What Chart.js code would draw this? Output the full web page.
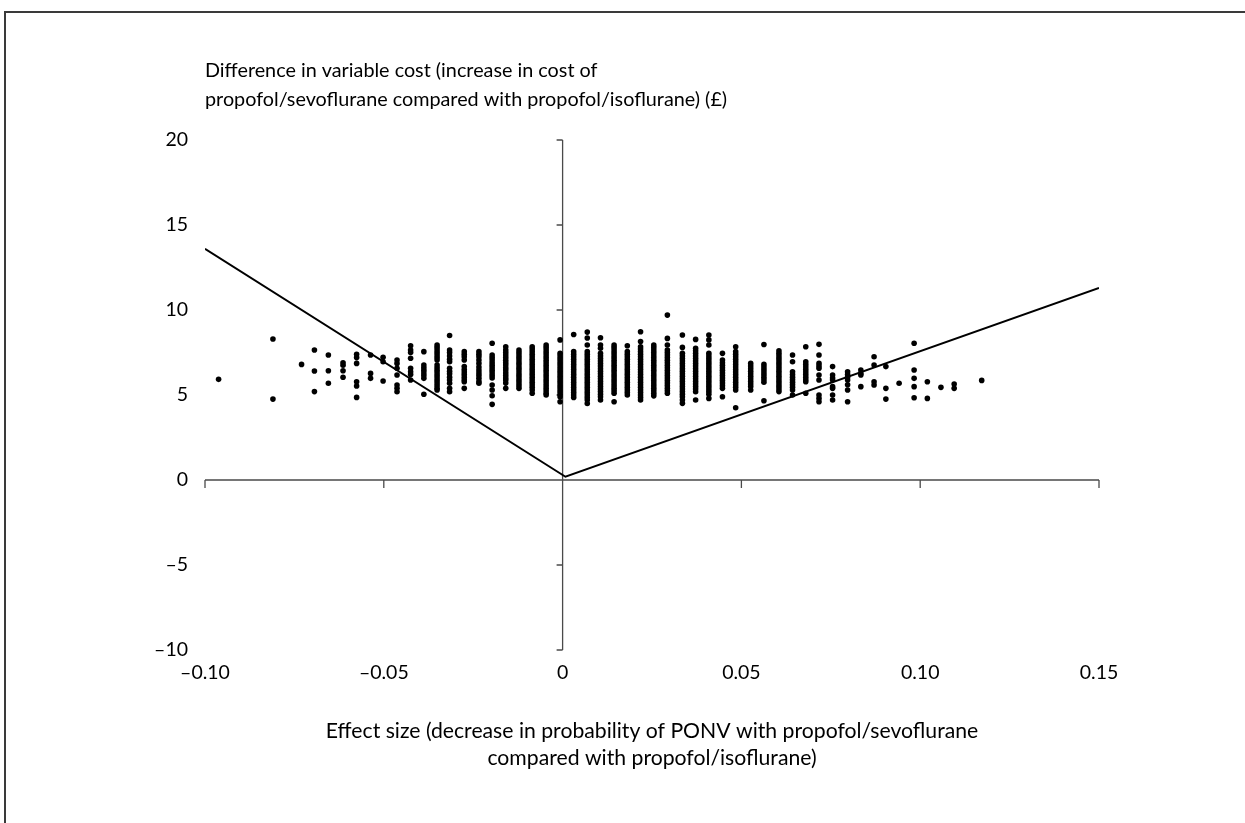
<!DOCTYPE html>
<html>
<head>
<meta charset="utf-8">
<script src="https://cdn.jsdelivr.net/npm/chart.js@4.4.1/dist/chart.umd.min.js"></script>
<style>
html, body { margin: 0; padding: 0; background: #fff; overflow: hidden; }
#wrap { position: relative; width: 1245px; height: 823px; }
#frame { position: absolute; left: 4px; top: 11px; width: 1280px; height: 840px; border-left: 2px solid #3a3a3a; border-top: 2px solid #3a3a3a; }
canvas { position: absolute; left: 0; top: 0; }
</style>
</head>
<body>
<div id="wrap">
    <div id="frame"></div>
    <canvas id="chart" width="1245" height="823"></canvas>
</div>
<script>
// effect size of each column of simulated points
const columnX = [
    -0.0962, -0.081, -0.073, -0.0694, -0.0655, -0.0614, -0.0576, -0.0537, -0.0502, -0.0463,
    -0.0425, -0.0388, -0.0351, -0.0316, -0.0275, -0.0234, -0.0197, -0.0159, -0.0122, -0.0085,
    -0.0046, -0.0007, 0.0031, 0.0069, 0.0106, 0.0144, 0.0181, 0.0218, 0.0255, 0.0293,
    0.0335, 0.0372, 0.0409, 0.0447, 0.0484, 0.0526, 0.0563, 0.0605, 0.0643, 0.068,
    0.0717, 0.0755, 0.0797, 0.0834, 0.0871, 0.0904, 0.0941, 0.0983, 0.102, 0.1058,
    0.1095, 0.1172
];

// cost differences (£) in each column
const columnY = [
    [5.92],
    [8.29, 4.76],
    [6.8],
    [7.65, 6.41, 5.2],
    [7.35, 6.43, 5.69],
    [6.9, 6.75, 6.43, 6.04],
    [7.39, 7.2, 6.86, 5.78, 5.53, 4.86],
    [7.35, 6.27, 5.98],
    [7.22, 6.96, 5.82],
    [7.06, 6.86, 6.57, 6.18, 5.59, 5.39, 5.19],
    [7.9, 7.65, 7.5, 7.16, 6.57, 6.37, 6.2, 5.88],
    [7.55, 6.76, 6.6, 6.45, 6.3, 6.15, 5.98, 5.04],
    [7.94, 7.8, 7.65, 7.5, 7.35, 7.2, 7.06, 6.76, 6.6, 6.45, 6.3, 6.15, 6.0, 5.85, 5.7, 5.55, 5.39, 5.29],
    [8.5, 7.65, 7.5, 7.3, 7.1, 6.96, 6.57, 6.4, 6.25, 6.05, 5.88, 5.69, 5.39, 5.19],
    [7.55, 7.4, 7.25, 7.06, 6.67, 6.5, 6.35, 6.2, 6.05, 5.9, 5.78, 5.39],
    [7.55, 7.4, 7.25, 7.06, 6.86, 6.65, 6.47, 6.3, 6.15, 5.98, 5.8, 5.69],
    [8.04, 7.35, 7.2, 7.06, 6.9, 6.75, 6.6, 6.45, 6.3, 6.15, 6.0, 5.59, 5.29, 4.96, 4.45],
    [7.84, 7.65, 7.5, 7.35, 7.2, 7.05, 6.9, 6.76, 6.6, 6.47, 6.3, 6.15, 6.0, 5.88, 5.7, 5.39],
    [7.65, 7.5, 7.35, 7.2, 7.06, 6.9, 6.76, 6.6, 6.47, 6.3, 6.15, 6.0, 5.85, 5.7, 5.55, 5.39],
    [7.84, 7.7, 7.55, 7.4, 7.25, 7.1, 6.96, 6.8, 6.65, 6.5, 6.35, 6.2, 6.05, 5.9, 5.75, 5.6, 5.45, 5.29, 5.1],
    [7.94, 7.8, 7.65, 7.5, 7.35, 7.2, 7.05, 6.9, 6.75, 6.6, 6.45, 6.3, 6.15, 6.0, 5.85, 5.7, 5.55, 5.4, 5.25, 5.1, 5.0],
    [8.24, 7.45, 7.3, 7.15, 7.0, 6.85, 6.7, 6.55, 6.4, 6.25, 6.1, 5.95, 5.8, 5.65, 5.5, 5.35, 5.2, 5.05, 4.9, 4.6],
    [8.56, 7.55, 7.4, 7.25, 7.1, 6.95, 6.8, 6.65, 6.5, 6.35, 6.2, 6.05, 5.9, 5.75, 5.6, 5.45, 5.3, 5.15, 5.0, 4.85],
    [8.7, 8.35, 7.94, 7.55, 7.4, 7.25, 7.1, 6.95, 6.8, 6.65, 6.5, 6.35, 6.2, 6.05, 5.9, 5.75, 5.6, 5.45, 5.3, 5.15, 5.0, 4.85, 4.7, 4.5],
    [8.37, 7.94, 7.75, 7.45, 7.3, 7.15, 7.0, 6.85, 6.7, 6.55, 6.4, 6.25, 6.1, 5.95, 5.8, 5.65, 5.5, 5.35, 5.2, 5.05, 4.9, 4.71],
    [7.94, 7.8, 7.65, 7.5, 7.35, 7.2, 7.05, 6.9, 6.75, 6.6, 6.45, 6.3, 6.15, 6.0, 5.85, 5.7, 5.55, 5.4, 5.25, 5.1, 4.6],
    [7.9, 7.55, 7.4, 7.25, 7.1, 6.95, 6.8, 6.65, 6.5, 6.35, 6.2, 6.05, 5.9, 5.75, 5.6, 5.45, 5.3, 5.15, 5.0],
    [8.72, 8.14, 7.84, 7.7, 7.55, 7.4, 7.25, 7.1, 6.95, 6.8, 6.65, 6.5, 6.35, 6.2, 6.05, 5.9, 5.75, 5.6, 5.45, 5.3, 5.15, 5.0, 4.85, 4.71],
    [7.94, 7.8, 7.65, 7.5, 7.35, 7.2, 7.05, 6.9, 6.75, 6.6, 6.45, 6.3, 6.15, 6.0, 5.85, 5.7, 5.55, 5.4, 5.25, 5.1, 4.95],
    [9.7, 8.33, 7.94, 7.65, 7.5, 7.35, 7.2, 7.05, 6.9, 6.75, 6.6, 6.45, 6.3, 6.15, 6.0, 5.85, 5.7, 5.55, 5.4, 5.25, 5.1],
    [8.53, 7.8, 7.45, 7.3, 7.15, 7.0, 6.85, 6.7, 6.55, 6.4, 6.25, 6.1, 5.95, 5.8, 5.65, 5.5, 5.35, 5.2, 5.05, 4.9, 4.71, 4.51],
    [8.27, 7.75, 7.6, 7.45, 7.3, 7.15, 7.0, 6.85, 6.7, 6.55, 6.4, 6.25, 6.1, 5.95, 5.8, 5.65, 5.5, 5.35, 5.19, 4.71],
    [8.53, 8.24, 7.94, 7.45, 7.3, 7.15, 7.0, 6.85, 6.7, 6.55, 6.4, 6.25, 6.1, 5.95, 5.8, 5.65, 5.5, 5.35, 5.2, 5.05, 4.8],
    [7.45, 7.06, 6.9, 6.75, 6.6, 6.45, 6.3, 6.15, 6.0, 5.85, 5.7, 5.55, 5.39, 4.9],
    [7.84, 7.55, 7.4, 7.25, 7.1, 6.95, 6.8, 6.65, 6.5, 6.35, 6.2, 6.05, 5.9, 5.75, 5.6, 5.45, 5.29, 4.25],
    [6.86, 6.7, 6.55, 6.4, 6.25, 6.1, 5.95, 5.8, 5.65, 5.5, 5.29],
    [7.97, 6.8, 6.65, 6.5, 6.35, 6.2, 6.05, 5.9, 5.75, 4.66],
    [7.6, 7.45, 7.3, 7.15, 7.0, 6.85, 6.7, 6.55, 6.4, 6.25, 6.1, 5.95, 5.8, 5.65, 5.5, 5.35, 5.2],
    [7.35, 6.96, 6.37, 6.2, 6.05, 5.9, 5.75, 5.6, 5.45, 5.29, 5.0],
    [7.84, 6.96, 6.8, 6.65, 6.5, 6.35, 6.2, 6.05, 5.9, 5.78, 5.1],
    [7.98, 7.35, 6.86, 6.7, 6.57, 6.18, 5.88, 5.0, 4.8, 4.6],
    [6.67, 6.18, 6.0, 5.88, 5.49, 5.39, 5.0, 4.71],
    [6.37, 6.2, 6.05, 5.88, 5.6, 5.29, 4.6],
    [6.47, 6.27, 6.18, 5.49],
    [7.25, 6.76, 5.78, 5.59],
    [6.67, 5.39, 4.76],
    [5.69],
    [8.04, 6.47, 5.98, 5.49, 4.84],
    [5.78, 4.8],
    [5.45],
    [5.39, 5.65],
    [5.86]
];

// threshold lines through the origin
const lineX = [-0.10, 0.0008, 0.15];
const lineY = [13.6, 0.19, 11.3];

const xTicks = [-0.10, -0.05, 0, 0.05, 0.10, 0.15];
const yTicks = [-10, -5, 0, 5, 10, 15, 20];

const yTitle = [
    'Difference in variable cost (increase in cost of',
    'propofol/sevoflurane compared with propofol/isoflurane) (\u00a3)'
];
const xTitle = [
    'Effect size (decrease in probability of PONV with propofol/sevoflurane',
    'compared with propofol/isoflurane)'
];

const FONT = 'Lato, "Open Sans", sans-serif';

function fmt(v, digits) {
    if (Math.abs(v) < 1e-9) return '0';
    return (v < 0 ? '\u2013' : '') + Math.abs(v).toFixed(digits);
}

const points = [];
columnX.forEach((x, i) => {
    columnY[i].forEach(y => points.push({ x: x, y: y }));
});

const linePoints = lineX.map((x, i) => ({ x: x, y: lineY[i] }));

// axes cross at the origin; labels stay on the outer edges
const crossAxes = {
    id: 'crossAxes',
    beforeDatasetsDraw(chart) {
        const { ctx, chartArea: a, scales: { x, y } } = chart;
        const x0 = x.getPixelForValue(0);
        const y0 = y.getPixelForValue(0);
        ctx.save();
        ctx.strokeStyle = '#4a4a4a';
        ctx.lineWidth = 1.3;
        ctx.beginPath();
        ctx.moveTo(a.left, y0);
        ctx.lineTo(a.right, y0);
        ctx.moveTo(x0, a.top);
        ctx.lineTo(x0, a.bottom);
        xTicks.forEach(v => {
            if (v === 0) return;
            const px = x.getPixelForValue(v);
            ctx.moveTo(px, y0);
            ctx.lineTo(px, y0 + 8);
        });
        yTicks.forEach(v => {
            if (v === 0) return;
            const py = y.getPixelForValue(v);
            ctx.moveTo(x0 - 6, py);
            ctx.lineTo(x0, py);
        });
        ctx.stroke();
        ctx.restore();
    },
    afterDraw(chart) {
        const { ctx, chartArea: a } = chart;
        ctx.save();
        ctx.fillStyle = '#000';
        ctx.font = '19.8px ' + FONT;
        ctx.textAlign = 'left';
        ctx.textBaseline = 'middle';
        ctx.fillText(yTitle[0], a.left, 71);
        ctx.fillText(yTitle[1], a.left, 100);
        ctx.restore();
    }
};

new Chart(document.getElementById('chart'), {
    type: 'scatter',
    data: {
        datasets: [
            {
                label: 'Simulations',
                data: points,
                backgroundColor: '#000',
                borderWidth: 0,
                pointRadius: 2.8
            },
            {
                label: 'Threshold',
                data: linePoints,
                showLine: true,
                borderColor: '#000',
                borderWidth: 2,
                pointRadius: 0,
                fill: false
            }
        ]
    },
    options: {
        responsive: false,
        animation: false,
        devicePixelRatio: 1,
        layout: { padding: { left: 0, top: 140, right: 146, bottom: 52 } },
        plugins: {
            legend: { display: false },
            tooltip: { enabled: false }
        },
        scales: {
            x: {
                type: 'linear',
                min: -0.10,
                max: 0.15,
                afterBuildTicks: s => { s.ticks = xTicks.map(v => ({ value: v })); },
                afterFit: s => { s.height = 121; },
                grid: { display: false },
                border: { display: false },
                ticks: {
                    padding: 3,
                    color: '#000',
                    font: { family: FONT, size: 19.5 },
                    maxRotation: 0,
                    callback: v => fmt(v, 2)
                },
                title: {
                    display: true,
                    text: xTitle,
                    color: '#000',
                    font: { family: FONT, size: 21.2, lineHeight: 1.25 },
                    padding: 0
                }
            },
            y: {
                type: 'linear',
                min: -10,
                max: 20,
                afterBuildTicks: s => { s.ticks = yTicks.map(v => ({ value: v })); },
                afterFit: s => { s.width = 205; },
                grid: { display: false },
                border: { display: false },
                ticks: {
                    padding: 9,
                    color: '#000',
                    font: { family: FONT, size: 19.5 },
                    callback: v => fmt(v, 0)
                }
            }
        }
    },
    plugins: [crossAxes]
});
</script>
</body>
</html>
